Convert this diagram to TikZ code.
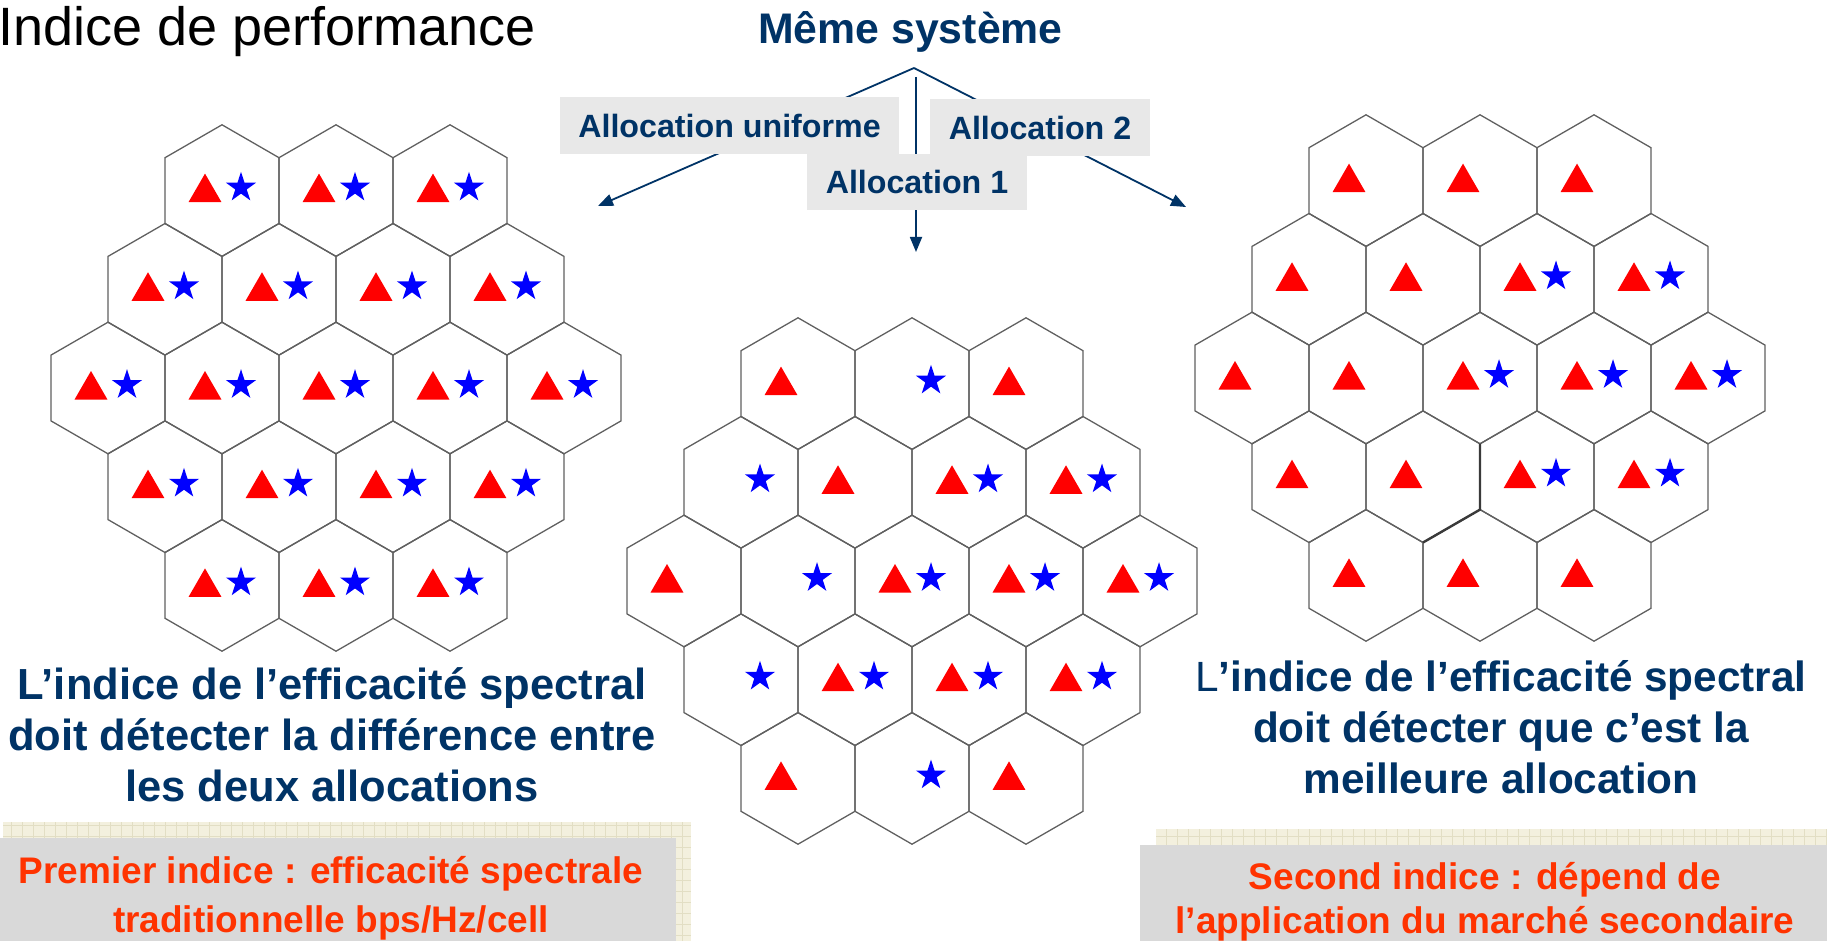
\documentclass[tikz,border=0pt]{standalone}
\usepackage{fontspec}
\setmainfont{Liberation Sans}
\usetikzlibrary{shapes.geometric,arrows.meta}

\definecolor{navy}{RGB}{0,51,102}
\definecolor{alertred}{RGB}{255,51,0}
\definecolor{labelgray}{RGB}{232,232,232}
\definecolor{boxgray}{RGB}{217,217,217}
\definecolor{paper}{RGB}{243,240,222}
\definecolor{paperline}{RGB}{226,222,196}
\definecolor{hexline}{RGB}{96,96,96}

% rows of a cluster: 0 = both, 1 = triangle only, 2 = star only
\newcommand{\cellgrid}[4]{%
  \foreach \codes [count=\row] in {#4} {
    \pgfmathtruncatemacro{\nc}{5-abs(\row-3)}
    \foreach \cellcode [count=\col] in \codes {
      \pgfmathsetmacro{\hx}{#2+(\col-(\nc+1)/2)*114}
      \pgfmathsetmacro{\hy}{#3+(\row-3)*98.7}
      \node[cell] (#1-\row-\col) at (\hx,\hy) {};
      \ifnum\cellcode<2
        \node[tri] (#1-\row-\col-t) at ([xshift=-17pt,yshift=-2pt]#1-\row-\col.center) {};
      \fi
      \ifnum\cellcode=1 \else
        \node[star5] (#1-\row-\col-s) at ([xshift=19pt,yshift=3pt]#1-\row-\col.center) {};
      \fi
    }
  }
}

\begin{document}
\begin{tikzpicture}[x=1pt,y=-1pt,
    cell/.style={regular polygon, regular polygon sides=6, shape border rotate=30,
      minimum size=131.6pt, inner sep=0pt, draw=hexline, line width=1.3pt},
    tri/.style={regular polygon, regular polygon sides=3, minimum size=38pt,
      inner sep=0pt, fill=red},
    star5/.style={star, star points=5, star point ratio=2.618, minimum size=31.6pt,
      inner sep=0pt, fill=blue},
    link/.style={draw=navy, line width=1.8pt, -{Triangle[length=15pt,width=12pt]}},
    alloc/.style={fill=labelgray, text=navy, inner sep=0pt, minimum height=57pt,
      font={\bfseries\fontsize{32.2}{38}\selectfont}},
    note/.style={align=center, text=navy, inner sep=0pt},
    alert/.style={align=center, text=alertred, inner sep=0pt}]
    \useasboundingbox (0,0) rectangle (1827,941);

    \node[anchor=base west, inner sep=0pt, font={\fontsize{54}{60}\selectfont}] (title) at (-2,46) {Indice de performance};
    \node[anchor=base, inner sep=0pt, text=navy, font={\bfseries\fontsize{42.8}{50}\selectfont}] (system) at (910.5,44) {Même système};

    \coordinate (split) at (914,68);
    \coordinate (stem) at (916,77);
    \coordinate (toL) at (598,206);
    \coordinate (toM) at (916,252);
    \coordinate (toR) at (1186,207);
    \draw[link] (split) -- (toL);
    \draw[link] (split) -- (toR);
    \draw[link] (stem) -- (toM);

    \node[alloc, minimum width=339pt] (uniform) at (729.5,125.5) {Allocation uniforme};
    \node[alloc, minimum width=220pt, minimum height=56pt] (alloc1) at (917,182) {Allocation 1};
    \node[alloc, minimum width=220pt] (alloc2) at (1040,127.5) {Allocation 2};

    \cellgrid{L}{336}{388}{{0,0,0},{0,0,0,0},{0,0,0,0,0},{0,0,0,0},{0,0,0}}
    \cellgrid{M}{912}{581}{{1,2,1},{2,1,0,0},{1,2,0,0,0},{2,0,0,0},{1,2,1}}
    \cellgrid{R}{1480}{378}{{1,1,1},{1,1,0,0},{1,1,0,0,0},{1,1,0,0},{1,1,1}}
    \draw[draw=hexline!60!black, line width=2.4pt] ([shift={(57pt,32.9pt)}]R-4-2.center) -- ([shift={(57pt,-32.9pt)}]R-4-2.center) -- ([yshift=-65.8pt]R-4-2.center);

    \node[note, anchor=base, font={\bfseries\fontsize{43.5}{51}\selectfont}] (diffnote) at (332,801.7) {L’indice de l’efficacité spectral\\doit détecter la différence entre\\les deux allocations};
    \node[note, anchor=base, font={\bfseries\fontsize{42.3}{51}\selectfont}] (bestnote) at (1501,793) {{\mdseries L}’indice de l’efficacité spectral\\doit détecter que c’est la\\meilleure allocation};

    \fill[paper] (3,822) rectangle (691,941);
    \draw[paperline, line width=0.6pt, step=11pt] (3,822) grid (691,941);
    \fill[boxgray] (0,838) rectangle (676,941);
    \fill[paper] (1156,829) rectangle (1827,941);
    \draw[paperline, line width=0.6pt, step=11pt] (1156,829) grid (1827,941);
    \fill[boxgray] (1140,845) rectangle (1827,941);

    \node[alert, anchor=base, font={\bfseries\fontsize{37}{49}\selectfont}] (firstidx) at (331,932) {Premier indice : efficacité spectrale\\traditionnelle bps/Hz/cell};
    \node[alert, anchor=base, font={\bfseries\fontsize{37}{44}\selectfont}] (secondidx) at (1485,933) {Second indice : dépend de\\l’application du marché secondaire};
\end{tikzpicture}
\end{document}
